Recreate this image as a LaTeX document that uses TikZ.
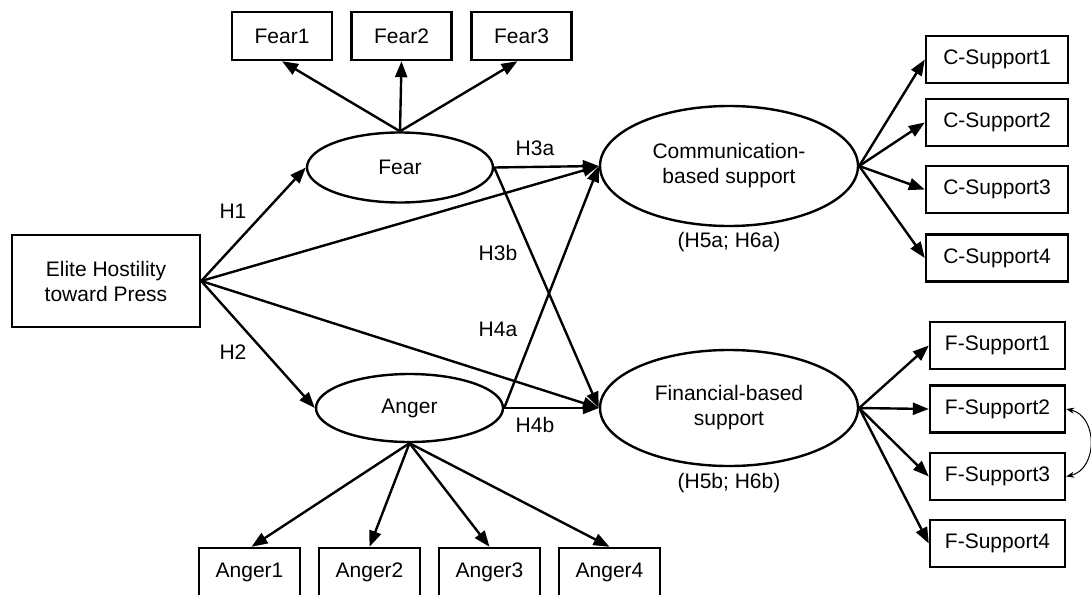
\documentclass[tikz,border=0pt]{standalone}
\usepackage{fontspec}
\setmainfont{Liberation Sans}
\usetikzlibrary{arrows.meta,shapes.geometric}
\begin{document}
\begin{tikzpicture}[x=1pt,y=-1pt,
  every node/.style={font=\fontsize{21pt}{25pt}\selectfont, inner sep=0pt},
  box/.style={draw, line width=2.4pt, rectangle, align=center},
  lat/.style={draw, line width=2.4pt, ellipse, align=center},
  arr/.style={line width=2.4pt, -{Triangle[length=16pt,width=12pt]}},
  cov/.style={line width=1pt, {Stealth[length=8pt,width=6pt]}-{Stealth[length=8pt,width=6pt]}},
  lab/.style={}]
\useasboundingbox (0,0) rectangle (1091,594);
\clip (0,0) rectangle (1091,594);
% indicators of Fear
\node[box, minimum width=100pt, minimum height=48pt] (f1) at (282,36) {Fear1};
\node[box, minimum width=100pt, minimum height=48pt] (f2) at (401.5,36) {Fear2};
\node[box, minimum width=100pt, minimum height=48pt] (f3) at (521.5,36) {Fear3};
% latent variables
\node[lat, minimum width=186pt, minimum height=70pt] (fear) at (400,167.5) {Fear};
\node[lat, minimum width=187pt, minimum height=68pt] (anger) at (409.5,408) {Anger};
\node[lat, minimum width=258pt, minimum height=120pt] (comm) at (729,166) {Communication-\\based support};
\node[lat, minimum width=258pt, minimum height=116pt] (fin) at (729,408) {Financial-based\\support};
\node (commlab) at (729,242) {(H5a; H6a)};
\node (finlab) at (729,483) {(H5b; H6b)};
% exogenous
\node[box, minimum width=188pt, minimum height=92pt] (elite) at (106,281) {Elite Hostility\\toward Press};
% C-support indicators
\node[box, minimum width=142pt, minimum height=47pt] (c1) at (997,59.5) {C-Support1};
\node[box, minimum width=142pt, minimum height=47pt] (c2) at (997,122.5) {C-Support2};
\node[box, minimum width=142pt, minimum height=47pt] (c3) at (997,189.5) {C-Support3};
\node[box, minimum width=142pt, minimum height=47pt] (c4) at (997,258) {C-Support4};
% F-support indicators
\node[box, minimum width=135pt, minimum height=47pt] (s1) at (997.5,345.5) {F-Support1};
\node[box, minimum width=135pt, minimum height=47pt] (s2) at (997.5,409) {F-Support2};
\node[box, minimum width=135pt, minimum height=47pt] (s3) at (997.5,476.5) {F-Support3};
\node[box, minimum width=135pt, minimum height=47pt] (s4) at (997.5,543.5) {F-Support4};
% Anger indicators
\node[box, minimum width=101pt, minimum height=48pt] (a1) at (249.5,572) {Anger1};
\node[box, minimum width=101pt, minimum height=48pt] (a2) at (369.5,572) {Anger2};
\node[box, minimum width=101pt, minimum height=48pt] (a3) at (489.5,572) {Anger3};
\node[box, minimum width=101pt, minimum height=48pt] (a4) at (609.5,572) {Anger4};
% path labels
\node[lab] (h1) at (233,211) {H1};
\node[lab] (h2) at (233,352) {H2};
\node[lab] (h3a) at (535,148) {H3a};
\node[lab] (h3b) at (498,253) {H3b};
\node[lab] (h4a) at (498,329) {H4a};
\node[lab] (h4b) at (535,425) {H4b};
% loadings
\draw[arr] (fear.north) -- (f1.south);
\draw[arr] (fear.north) -- (f2.south);
\draw[arr] (fear.north) -- ([xshift=-4pt]f3.south);
\draw[arr] (anger.south) -- ([xshift=2pt]a1.north);
\draw[arr] (anger.south) -- (a2.north);
\draw[arr] (anger.south) -- (a3.north);
\draw[arr] (anger.south) -- (a4.north);
\draw[arr] (comm.east) -- (c1.west);
\draw[arr] (comm.east) -- (c2.west);
\draw[arr] (comm.east) -- (c3.west);
\draw[arr] (comm.east) -- (c4.west);
\draw[arr] (fin.east) -- (s1.west);
\draw[arr] (fin.east) -- (s2.west);
\draw[arr] (fin.east) -- (s3.west);
\draw[arr] (fin.east) -- (s4.west);
% structural paths
\draw[arr] (elite.east) -- (fear.west);
\draw[arr] (elite.east) -- (anger.west);
\draw[arr] (elite.east) -- (comm.west);
\draw[arr] (elite.east) -- (fin.west);
\draw[arr] (fear.east) -- (comm.west);
\draw[arr] (fear.east) -- (fin.west);
\draw[arr] (anger.east) -- (comm.west);
\draw[arr] (anger.east) -- (fin.west);
% covariance
\draw[cov] (s2.east) .. controls (1098,416) and (1098,469) .. (s3.east);
\end{tikzpicture}
\end{document}
